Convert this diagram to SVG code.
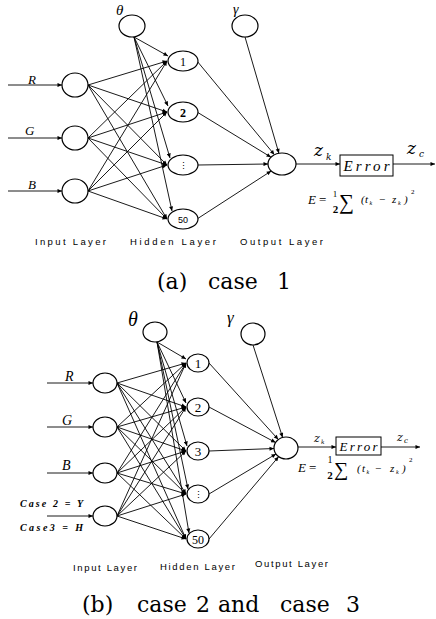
<svg xmlns="http://www.w3.org/2000/svg" width="436" height="619" viewBox="0 0 436 619">
<style>
.n{fill:#fff;stroke:#000;stroke-width:1.2}
.c line{stroke:#000;stroke-width:0.9;marker-end:url(#ah)}
.it{font-family:"Liberation Serif",serif;font-style:italic;fill:#000}
.zi{font-family:"DejaVu Serif",serif;font-style:italic;fill:#000}
.sf{font-family:"Liberation Serif",serif;fill:#000}
.cap{font-family:"DejaVu Serif",serif;font-size:22px;fill:#000}
.ss{font-family:"Liberation Sans",sans-serif;fill:#000}
.lab{font-family:"Liberation Sans",sans-serif;font-size:9.5px;fill:#000}
.num{font-family:"Liberation Serif",serif;text-anchor:middle;fill:#000}
</style>
<defs>
<marker id="ah" viewBox="0 0 10 10" refX="10" refY="5" markerWidth="6" markerHeight="4.5" orient="auto" markerUnits="userSpaceOnUse"><path d="M0,0.5 L10,5 L0,9.5 z" fill="#000"/></marker>
</defs>
<rect width="436" height="619" fill="#fff"/>

<!-- ===== (a) connectors ===== -->
<g id="connectors-a" class="c">
<line x1="8" y1="85" x2="62" y2="85"/>
<line x1="8" y1="138" x2="62" y2="138"/>
<line x1="8" y1="191" x2="62" y2="191"/>
<line x1="88" y1="85" x2="167" y2="61"/>
<line x1="88" y1="85" x2="167" y2="112"/>
<line x1="88" y1="85" x2="167" y2="165"/>
<line x1="88" y1="85" x2="167" y2="219"/>
<line x1="88" y1="138" x2="167" y2="61"/>
<line x1="88" y1="138" x2="167" y2="112"/>
<line x1="88" y1="138" x2="167" y2="165"/>
<line x1="88" y1="138" x2="167" y2="219"/>
<line x1="88" y1="191" x2="167" y2="61"/>
<line x1="88" y1="191" x2="167" y2="112"/>
<line x1="88" y1="191" x2="167" y2="165"/>
<line x1="88" y1="191" x2="167" y2="219"/>
<line x1="134" y1="37" x2="168" y2="56"/>
<line x1="134" y1="37" x2="168" y2="106"/>
<line x1="134" y1="37" x2="170" y2="158"/>
<line x1="134" y1="37" x2="172" y2="211"/>
<line x1="197" y1="61" x2="274.4" y2="154.7"/>
<line x1="197" y1="112" x2="271" y2="157.2"/>
<line x1="198" y1="165" x2="268" y2="164"/>
<line x1="197" y1="219" x2="271.2" y2="171"/>
<line x1="245" y1="37" x2="278.9" y2="153.3"/>
<line x1="296" y1="164" x2="340" y2="164"/>
<line x1="393" y1="164" x2="435" y2="164"/>
</g>

<!-- ===== (a) nodes ===== -->
<g id="a-theta"><ellipse class="n" cx="132" cy="26" rx="13" ry="11"/><text class="it" x="116" y="15" font-size="15">θ</text></g>
<g id="a-gamma"><ellipse class="n" cx="245" cy="26" rx="13" ry="11"/><text class="it" x="233" y="14" font-size="14">γ</text></g>
<g id="a-in-R"><ellipse class="n" cx="75" cy="85" rx="13" ry="12"/><text class="it" x="28" y="84" font-size="13">R</text></g>
<g id="a-in-G"><ellipse class="n" cx="75" cy="138" rx="13" ry="12"/><text class="it" x="25" y="135" font-size="13">G</text></g>
<g id="a-in-B"><ellipse class="n" cx="75" cy="191" rx="13" ry="12"/><text class="it" x="28" y="189" font-size="13">B</text></g>
<g id="a-h1"><ellipse class="n" cx="183" cy="61" rx="15" ry="10"/><text class="num" x="183" y="65.5" font-size="12">1</text></g>
<g id="a-h2"><ellipse class="n" cx="183" cy="112" rx="15" ry="10"/><text class="num" x="183" y="116.5" font-size="12" font-weight="bold">2</text></g>
<g id="a-h3"><ellipse class="n" cx="183" cy="165" rx="15" ry="10"/><text class="num" x="183" y="168.5" font-size="9">⋮</text></g>
<g id="a-h50"><ellipse class="n" cx="183" cy="219" rx="15" ry="10"/><text class="ss" x="183" y="222.5" font-size="9" text-anchor="middle">50</text></g>
<g id="a-out"><ellipse class="n" cx="282" cy="164" rx="14" ry="11"/></g>
<g id="a-zk"><text class="zi" x="314" y="156" font-size="17">z</text><text class="zi" x="326" y="160" font-size="9">k</text></g>
<g id="a-error"><rect x="340" y="155" width="53" height="21" fill="#fff" stroke="#000" stroke-width="1"/><text class="it" x="366.5" y="170.5" font-size="15" text-anchor="middle" textLength="46" lengthAdjust="spacing">Error</text></g>
<g id="a-zc"><text class="zi" x="407" y="154" font-size="17">z</text><text class="zi" x="419" y="157" font-size="9">c</text></g>
<g id="a-eq">
<text class="it" x="308" y="204" font-size="13">E</text>
<text class="sf" x="319" y="204" font-size="13">=</text>
<text class="sf" x="335" y="197" font-size="9" text-anchor="middle">1</text>
<text class="sf" x="335.5" y="213" font-size="11" text-anchor="middle" font-weight="bold">2</text>
<text class="sf" x="339" y="209" font-size="21">∑</text>
<text class="it" x="361" y="203" font-size="11">(</text>
<text class="it" x="365" y="203" font-size="11">t</text>
<text class="it" x="369.5" y="205" font-size="6">k</text>
<text class="sf" x="379" y="203" font-size="11">−</text>
<text class="it" x="392" y="203" font-size="11">z</text>
<text class="it" x="398" y="205" font-size="6">k</text>
<text class="it" x="404" y="203" font-size="11">)</text>
<text class="sf" x="411" y="194" font-size="7">2</text>
</g>
<text class="lab" x="35" y="245" textLength="71" lengthAdjust="spacing">Input Layer</text>
<text class="lab" x="130" y="245" textLength="86" lengthAdjust="spacing">Hidden Layer</text>
<text class="lab" x="240" y="245" textLength="83" lengthAdjust="spacing">Output Layer</text>
<text class="cap" y="289"><tspan x="157">(a)</tspan><tspan x="208">case</tspan><tspan x="277">1</tspan></text>

<!-- ===== (b) connectors ===== -->
<g id="connectors-b" class="c">
<line x1="47" y1="383" x2="93" y2="383"/>
<line x1="47" y1="427" x2="93" y2="427"/>
<line x1="47" y1="473" x2="93" y2="473"/>
<line x1="47" y1="516" x2="93" y2="516"/>
<line x1="117" y1="383" x2="186" y2="363"/>
<line x1="117" y1="383" x2="186" y2="407"/>
<line x1="117" y1="383" x2="186" y2="451"/>
<line x1="117" y1="383" x2="186" y2="494"/>
<line x1="117" y1="383" x2="186" y2="539"/>
<line x1="117" y1="427" x2="186" y2="363"/>
<line x1="117" y1="427" x2="186" y2="407"/>
<line x1="117" y1="427" x2="186" y2="451"/>
<line x1="117" y1="427" x2="186" y2="494"/>
<line x1="117" y1="427" x2="186" y2="539"/>
<line x1="117" y1="473" x2="186" y2="363"/>
<line x1="117" y1="473" x2="186" y2="407"/>
<line x1="117" y1="473" x2="186" y2="451"/>
<line x1="117" y1="473" x2="186" y2="494"/>
<line x1="117" y1="473" x2="186" y2="539"/>
<line x1="117" y1="516" x2="186" y2="363"/>
<line x1="117" y1="516" x2="186" y2="407"/>
<line x1="117" y1="516" x2="186" y2="451"/>
<line x1="117" y1="516" x2="186" y2="494"/>
<line x1="117" y1="516" x2="186" y2="539"/>
<line x1="157" y1="342" x2="186" y2="359"/>
<line x1="157" y1="342" x2="186" y2="403"/>
<line x1="157" y1="342" x2="187" y2="446"/>
<line x1="157" y1="342" x2="188" y2="489"/>
<line x1="157" y1="342" x2="189" y2="533"/>
<line x1="209" y1="363" x2="278.3" y2="439.5"/>
<line x1="209" y1="407" x2="275.6" y2="442.5"/>
<line x1="209" y1="451" x2="274" y2="448.5"/>
<line x1="209" y1="494" x2="276" y2="454"/>
<line x1="209" y1="539" x2="278.6" y2="456.7"/>
<line x1="253" y1="345" x2="282.6" y2="437.4"/>
<line x1="298" y1="447" x2="336" y2="447"/>
<line x1="381" y1="447" x2="420" y2="447"/>
</g>

<!-- ===== (b) nodes ===== -->
<g id="b-theta"><ellipse class="n" cx="155" cy="332" rx="12" ry="10"/><text class="it" x="128" y="326" font-size="20">θ</text></g>
<g id="b-gamma"><ellipse class="n" cx="253" cy="334" rx="12" ry="11"/><text class="it" x="227" y="323" font-size="17">γ</text></g>
<g id="b-in-R"><ellipse class="n" cx="105" cy="383" rx="12" ry="10"/><text class="it" x="65" y="381" font-size="14">R</text></g>
<g id="b-in-G"><ellipse class="n" cx="105" cy="427" rx="12" ry="10"/><text class="it" x="62" y="425" font-size="14">G</text></g>
<g id="b-in-B"><ellipse class="n" cx="105" cy="473" rx="12" ry="10"/><text class="it" x="62" y="470" font-size="14">B</text></g>
<g id="b-in-YH"><ellipse class="n" cx="105" cy="516" rx="12" ry="10"/>
<text class="it" x="20" y="507" font-size="10" font-weight="bold" textLength="63" lengthAdjust="spacing">Case 2 = Y</text>
<text class="it" x="20" y="531" font-size="10" font-weight="bold" textLength="63" lengthAdjust="spacing">Case3 = H</text></g>
<g id="b-h1"><ellipse class="n" cx="198" cy="363" rx="11" ry="9"/><text class="num" x="198" y="367.5" font-size="13">1</text></g>
<g id="b-h2"><ellipse class="n" cx="198" cy="407" rx="11" ry="9"/><text class="num" x="198" y="411.5" font-size="13">2</text></g>
<g id="b-h3"><ellipse class="n" cx="198" cy="451" rx="11" ry="9"/><text class="num" x="198" y="455.5" font-size="13">3</text></g>
<g id="b-h4"><ellipse class="n" cx="198" cy="494" rx="11" ry="9"/><text class="num" x="198" y="497.5" font-size="9">⋮</text></g>
<g id="b-h50"><ellipse class="n" cx="198" cy="539" rx="11" ry="9"/><text class="num" x="198" y="543.5" font-size="12">50</text></g>
<g id="b-out"><ellipse class="n" cx="286" cy="448" rx="12" ry="11"/></g>
<g id="b-zk"><text class="zi" x="314" y="442" font-size="11">z</text><text class="zi" x="321" y="444" font-size="6">k</text></g>
<g id="b-error"><rect x="336" y="437" width="45" height="18" fill="#fff" stroke="#000" stroke-width="1"/><text class="it" x="358.5" y="450.5" font-size="13" text-anchor="middle" textLength="38" lengthAdjust="spacing">Error</text></g>
<g id="b-zc"><text class="zi" x="397" y="441" font-size="11">z</text><text class="zi" x="404" y="443" font-size="7">c</text></g>
<g id="b-eq">
<text class="it" x="298" y="472" font-size="13">E</text>
<text class="sf" x="309" y="472" font-size="13">=</text>
<text class="sf" x="330" y="463" font-size="10" text-anchor="middle">1</text>
<text class="sf" x="330" y="479" font-size="11" text-anchor="middle" font-weight="bold">2</text>
<text class="sf" x="334" y="476" font-size="20">∑</text>
<text class="it" x="357" y="472" font-size="11">(</text>
<text class="it" x="362" y="472" font-size="11">t</text>
<text class="it" x="366.5" y="474" font-size="6">k</text>
<text class="sf" x="375" y="472" font-size="11">−</text>
<text class="it" x="390" y="472" font-size="11">z</text>
<text class="it" x="396" y="474" font-size="6">k</text>
<text class="it" x="402" y="472" font-size="11">)</text>
<text class="sf" x="409" y="462" font-size="7">2</text>
</g>
<text class="lab" x="73" y="571" font-size="8.5" textLength="64" lengthAdjust="spacing">Input Layer</text>
<text class="lab" x="160" y="570" font-size="8.5" textLength="75" lengthAdjust="spacing">Hidden Layer</text>
<text class="lab" x="255" y="567" font-size="8.5" textLength="73" lengthAdjust="spacing">Output Layer</text>
<text class="cap" y="612"><tspan x="82">(b)</tspan><tspan x="137">case</tspan><tspan x="196">2</tspan><tspan x="218">and</tspan><tspan x="280">case</tspan><tspan x="346">3</tspan></text>
</svg>
